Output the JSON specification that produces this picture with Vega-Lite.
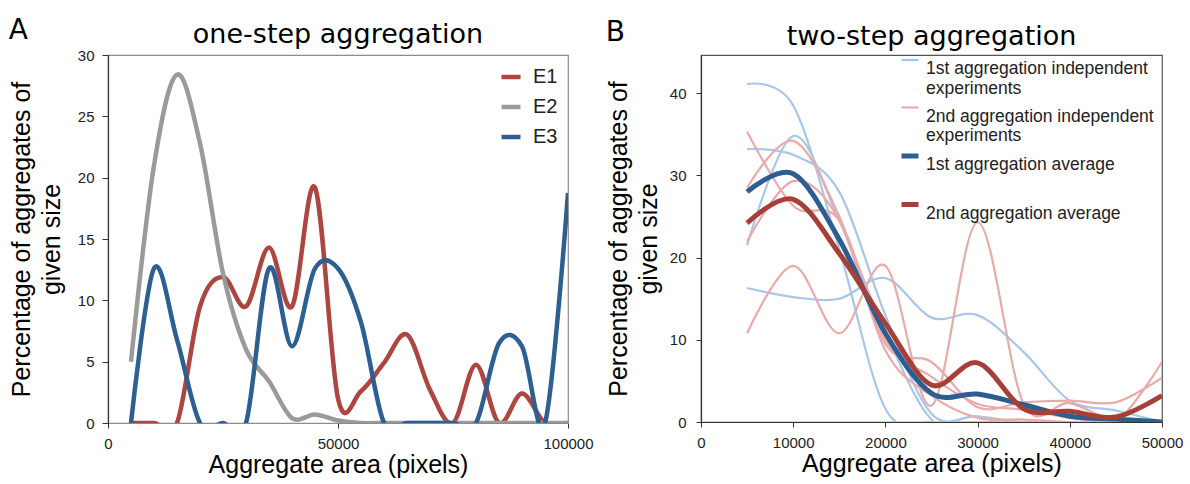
{
  "$schema": "https://vega.github.io/schema/vega-lite/v6.json",
  "padding": {"left": 8, "top": 17, "right": 5, "bottom": 2},
  "spacing": 11,
  "config": {
    "font": "Liberation Sans",
    "view": {"stroke": "#8c8c8c", "strokeWidth": 1.2},
    "title": {"font": "DejaVu Sans", "fontSize": 27, "fontWeight": "normal", "color": "#000000", "baseline": "alphabetic"},
    "axis": {
      "grid": false,
      "labelFont": "Liberation Sans", "labelFontSize": 15, "labelColor": "#222222",
      "titleFont": "Liberation Sans", "titleFontSize": 25, "titleFontWeight": "normal", "titleColor": "#000000",
      "tickColor": "#333333", "tickSize": 5, "domainColor": "#333333", "domainWidth": 1.2
    },
    "legend": {"labelFont": "Liberation Sans", "labelColor": "#222222", "symbolType": "stroke", "padding": 0}
  },
  "datasets": {
    "one": [
      {"exp": "E1", "area": 5000, "pct": 0}, {"exp": "E1", "area": 10000, "pct": 0}, {"exp": "E1", "area": 15000, "pct": 0},
      {"exp": "E1", "area": 20000, "pct": 9.5}, {"exp": "E1", "area": 25000, "pct": 11.9}, {"exp": "E1", "area": 30000, "pct": 9.5},
      {"exp": "E1", "area": 35000, "pct": 14.3}, {"exp": "E1", "area": 40000, "pct": 9.5}, {"exp": "E1", "area": 45000, "pct": 19.2},
      {"exp": "E1", "area": 50000, "pct": 2.0}, {"exp": "E1", "area": 55000, "pct": 2.6}, {"exp": "E1", "area": 60000, "pct": 4.9},
      {"exp": "E1", "area": 65000, "pct": 7.2}, {"exp": "E1", "area": 70000, "pct": 2.7}, {"exp": "E1", "area": 75000, "pct": 0},
      {"exp": "E1", "area": 80000, "pct": 4.75}, {"exp": "E1", "area": 85000, "pct": 0}, {"exp": "E1", "area": 90000, "pct": 2.4},
      {"exp": "E1", "area": 95000, "pct": 0}, {"exp": "E1", "area": 100000, "pct": 0},
      {"exp": "E2", "area": 5000, "pct": 5.0}, {"exp": "E2", "area": 10000, "pct": 21.0}, {"exp": "E2", "area": 15000, "pct": 28.4},
      {"exp": "E2", "area": 20000, "pct": 22.8}, {"exp": "E2", "area": 25000, "pct": 12.2}, {"exp": "E2", "area": 30000, "pct": 6.0},
      {"exp": "E2", "area": 35000, "pct": 3.4}, {"exp": "E2", "area": 40000, "pct": 0.4}, {"exp": "E2", "area": 45000, "pct": 0.7},
      {"exp": "E2", "area": 50000, "pct": 0.2}, {"exp": "E2", "area": 55000, "pct": 0}, {"exp": "E2", "area": 60000, "pct": 0},
      {"exp": "E2", "area": 65000, "pct": 0}, {"exp": "E2", "area": 70000, "pct": 0}, {"exp": "E2", "area": 75000, "pct": 0},
      {"exp": "E2", "area": 80000, "pct": 0}, {"exp": "E2", "area": 85000, "pct": 0}, {"exp": "E2", "area": 90000, "pct": 0},
      {"exp": "E2", "area": 95000, "pct": 0}, {"exp": "E2", "area": 100000, "pct": 0},
      {"exp": "E3", "area": 5000, "pct": 0}, {"exp": "E3", "area": 10000, "pct": 12.6}, {"exp": "E3", "area": 15000, "pct": 6.8},
      {"exp": "E3", "area": 20000, "pct": 0}, {"exp": "E3", "area": 25000, "pct": 0}, {"exp": "E3", "area": 30000, "pct": 0},
      {"exp": "E3", "area": 35000, "pct": 12.6}, {"exp": "E3", "area": 40000, "pct": 6.25}, {"exp": "E3", "area": 45000, "pct": 12.6},
      {"exp": "E3", "area": 50000, "pct": 12.6}, {"exp": "E3", "area": 55000, "pct": 8.2}, {"exp": "E3", "area": 60000, "pct": 0},
      {"exp": "E3", "area": 65000, "pct": 0}, {"exp": "E3", "area": 70000, "pct": 0}, {"exp": "E3", "area": 75000, "pct": 0},
      {"exp": "E3", "area": 80000, "pct": 0}, {"exp": "E3", "area": 85000, "pct": 6.5}, {"exp": "E3", "area": 90000, "pct": 6.25},
      {"exp": "E3", "area": 95000, "pct": 0}, {"exp": "E3", "area": 100000, "pct": 18.75}
    ],
    "two": [
      {"run": "B1", "series": "1st aggregation independent experiments", "area": 5000, "pct": 41.1},
      {"run": "B1", "series": "1st aggregation independent experiments", "area": 10000, "pct": 38.5},
      {"run": "B1", "series": "1st aggregation independent experiments", "area": 15000, "pct": 21.0},
      {"run": "B1", "series": "1st aggregation independent experiments", "area": 20000, "pct": 1.6},
      {"run": "B1", "series": "1st aggregation independent experiments", "area": 25000, "pct": 0},
      {"run": "B1", "series": "1st aggregation independent experiments", "area": 30000, "pct": 0},
      {"run": "B1", "series": "1st aggregation independent experiments", "area": 35000, "pct": 0},
      {"run": "B1", "series": "1st aggregation independent experiments", "area": 40000, "pct": 0},
      {"run": "B1", "series": "1st aggregation independent experiments", "area": 45000, "pct": 0},
      {"run": "B1", "series": "1st aggregation independent experiments", "area": 50000, "pct": 0},
      {"run": "B2", "series": "1st aggregation independent experiments", "area": 5000, "pct": 33.2},
      {"run": "B2", "series": "1st aggregation independent experiments", "area": 10000, "pct": 32.5},
      {"run": "B2", "series": "1st aggregation independent experiments", "area": 15000, "pct": 28.0},
      {"run": "B2", "series": "1st aggregation independent experiments", "area": 20000, "pct": 13.0},
      {"run": "B2", "series": "1st aggregation independent experiments", "area": 25000, "pct": 1.0},
      {"run": "B2", "series": "1st aggregation independent experiments", "area": 30000, "pct": 0.7},
      {"run": "B2", "series": "1st aggregation independent experiments", "area": 35000, "pct": 0},
      {"run": "B2", "series": "1st aggregation independent experiments", "area": 40000, "pct": 0},
      {"run": "B2", "series": "1st aggregation independent experiments", "area": 45000, "pct": 0},
      {"run": "B2", "series": "1st aggregation independent experiments", "area": 50000, "pct": 0},
      {"run": "B3", "series": "1st aggregation independent experiments", "area": 5000, "pct": 21.5},
      {"run": "B3", "series": "1st aggregation independent experiments", "area": 10000, "pct": 34.8},
      {"run": "B3", "series": "1st aggregation independent experiments", "area": 15000, "pct": 24.5},
      {"run": "B3", "series": "1st aggregation independent experiments", "area": 20000, "pct": 11.0},
      {"run": "B3", "series": "1st aggregation independent experiments", "area": 25000, "pct": 0.3},
      {"run": "B3", "series": "1st aggregation independent experiments", "area": 30000, "pct": 0},
      {"run": "B3", "series": "1st aggregation independent experiments", "area": 35000, "pct": 0},
      {"run": "B3", "series": "1st aggregation independent experiments", "area": 40000, "pct": 0},
      {"run": "B3", "series": "1st aggregation independent experiments", "area": 45000, "pct": 0},
      {"run": "B3", "series": "1st aggregation independent experiments", "area": 50000, "pct": 0},
      {"run": "B4", "series": "1st aggregation independent experiments", "area": 5000, "pct": 16.3},
      {"run": "B4", "series": "1st aggregation independent experiments", "area": 10000, "pct": 15.2},
      {"run": "B4", "series": "1st aggregation independent experiments", "area": 15000, "pct": 15.0},
      {"run": "B4", "series": "1st aggregation independent experiments", "area": 20000, "pct": 17.5},
      {"run": "B4", "series": "1st aggregation independent experiments", "area": 25000, "pct": 12.7},
      {"run": "B4", "series": "1st aggregation independent experiments", "area": 30000, "pct": 13.0},
      {"run": "B4", "series": "1st aggregation independent experiments", "area": 35000, "pct": 8.5},
      {"run": "B4", "series": "1st aggregation independent experiments", "area": 40000, "pct": 2.6},
      {"run": "B4", "series": "1st aggregation independent experiments", "area": 45000, "pct": 1.4},
      {"run": "B4", "series": "1st aggregation independent experiments", "area": 50000, "pct": 0},
      {"run": "P1", "series": "2nd aggregation independent experiments", "area": 5000, "pct": 35.3},
      {"run": "P1", "series": "2nd aggregation independent experiments", "area": 10000, "pct": 26.3},
      {"run": "P1", "series": "2nd aggregation independent experiments", "area": 15000, "pct": 24.5},
      {"run": "P1", "series": "2nd aggregation independent experiments", "area": 20000, "pct": 10.0},
      {"run": "P1", "series": "2nd aggregation independent experiments", "area": 25000, "pct": 5.5},
      {"run": "P1", "series": "2nd aggregation independent experiments", "area": 30000, "pct": 2.2},
      {"run": "P1", "series": "2nd aggregation independent experiments", "area": 35000, "pct": 1.5},
      {"run": "P1", "series": "2nd aggregation independent experiments", "area": 40000, "pct": 0.5},
      {"run": "P1", "series": "2nd aggregation independent experiments", "area": 45000, "pct": 0},
      {"run": "P1", "series": "2nd aggregation independent experiments", "area": 50000, "pct": 0},
      {"run": "P2", "series": "2nd aggregation independent experiments", "area": 5000, "pct": 28.5},
      {"run": "P2", "series": "2nd aggregation independent experiments", "area": 10000, "pct": 34.2},
      {"run": "P2", "series": "2nd aggregation independent experiments", "area": 15000, "pct": 25.0},
      {"run": "P2", "series": "2nd aggregation independent experiments", "area": 20000, "pct": 9.5},
      {"run": "P2", "series": "2nd aggregation independent experiments", "area": 25000, "pct": 7.3},
      {"run": "P2", "series": "2nd aggregation independent experiments", "area": 30000, "pct": 1.8},
      {"run": "P2", "series": "2nd aggregation independent experiments", "area": 35000, "pct": 2.4},
      {"run": "P2", "series": "2nd aggregation independent experiments", "area": 40000, "pct": 2.6},
      {"run": "P2", "series": "2nd aggregation independent experiments", "area": 45000, "pct": 2.4},
      {"run": "P2", "series": "2nd aggregation independent experiments", "area": 50000, "pct": 5.4},
      {"run": "P3", "series": "2nd aggregation independent experiments", "area": 5000, "pct": 22.0},
      {"run": "P3", "series": "2nd aggregation independent experiments", "area": 10000, "pct": 29.3},
      {"run": "P3", "series": "2nd aggregation independent experiments", "area": 15000, "pct": 24.5},
      {"run": "P3", "series": "2nd aggregation independent experiments", "area": 20000, "pct": 8.7},
      {"run": "P3", "series": "2nd aggregation independent experiments", "area": 25000, "pct": 3.2},
      {"run": "P3", "series": "2nd aggregation independent experiments", "area": 30000, "pct": 0.5},
      {"run": "P3", "series": "2nd aggregation independent experiments", "area": 35000, "pct": 0.3},
      {"run": "P3", "series": "2nd aggregation independent experiments", "area": 40000, "pct": 0},
      {"run": "P3", "series": "2nd aggregation independent experiments", "area": 45000, "pct": 0},
      {"run": "P3", "series": "2nd aggregation independent experiments", "area": 50000, "pct": 7.3},
      {"run": "P4", "series": "2nd aggregation independent experiments", "area": 5000, "pct": 10.8},
      {"run": "P4", "series": "2nd aggregation independent experiments", "area": 10000, "pct": 19.0},
      {"run": "P4", "series": "2nd aggregation independent experiments", "area": 15000, "pct": 10.8},
      {"run": "P4", "series": "2nd aggregation independent experiments", "area": 20000, "pct": 19.0},
      {"run": "P4", "series": "2nd aggregation independent experiments", "area": 25000, "pct": 2.0},
      {"run": "P4", "series": "2nd aggregation independent experiments", "area": 30000, "pct": 24.3},
      {"run": "P4", "series": "2nd aggregation independent experiments", "area": 35000, "pct": 2.2},
      {"run": "P4", "series": "2nd aggregation independent experiments", "area": 40000, "pct": 2.3},
      {"run": "P4", "series": "2nd aggregation independent experiments", "area": 45000, "pct": 0},
      {"run": "P4", "series": "2nd aggregation independent experiments", "area": 50000, "pct": 0},
      {"run": "A1", "series": "1st aggregation average", "area": 5000, "pct": 28.0},
      {"run": "A1", "series": "1st aggregation average", "area": 10000, "pct": 30.2},
      {"run": "A1", "series": "1st aggregation average", "area": 15000, "pct": 22.2},
      {"run": "A1", "series": "1st aggregation average", "area": 20000, "pct": 10.8},
      {"run": "A1", "series": "1st aggregation average", "area": 25000, "pct": 3.5},
      {"run": "A1", "series": "1st aggregation average", "area": 30000, "pct": 3.4},
      {"run": "A1", "series": "1st aggregation average", "area": 35000, "pct": 2.1},
      {"run": "A1", "series": "1st aggregation average", "area": 40000, "pct": 0.7},
      {"run": "A1", "series": "1st aggregation average", "area": 45000, "pct": 0.35},
      {"run": "A1", "series": "1st aggregation average", "area": 50000, "pct": 0},
      {"run": "A2", "series": "2nd aggregation average", "area": 5000, "pct": 24.2},
      {"run": "A2", "series": "2nd aggregation average", "area": 10000, "pct": 27.1},
      {"run": "A2", "series": "2nd aggregation average", "area": 15000, "pct": 20.5},
      {"run": "A2", "series": "2nd aggregation average", "area": 20000, "pct": 12.0},
      {"run": "A2", "series": "2nd aggregation average", "area": 25000, "pct": 4.5},
      {"run": "A2", "series": "2nd aggregation average", "area": 30000, "pct": 7.2},
      {"run": "A2", "series": "2nd aggregation average", "area": 35000, "pct": 1.6},
      {"run": "A2", "series": "2nd aggregation average", "area": 40000, "pct": 1.3},
      {"run": "A2", "series": "2nd aggregation average", "area": 45000, "pct": 0.6},
      {"run": "A2", "series": "2nd aggregation average", "area": 50000, "pct": 3.2}
    ]
  },
  "resolve": {"scale": {"color": "independent", "strokeWidth": "independent"}, "legend": {"color": "independent", "strokeWidth": "independent"}},
  "hconcat": [
    {
      "title": {"text": "A", "anchor": "start", "frame": "bounds", "offset": -25, "fontSize": 28},
      "resolve": {"scale": {"color": "independent"}, "legend": {"color": "independent"}},
      "hconcat": [
        {
          "width": 460,
          "height": 368,
          "title": {"text": "one-step aggregation", "offset": -1},
          "data": {"name": "one"},
          "mark": {"type": "line", "interpolate": "cardinal", "strokeWidth": 4.5, "clip": true},
          "encoding": {
            "x": {
              "field": "area", "type": "quantitative",
              "scale": {"domain": [0, 100000], "nice": false},
              "axis": {"values": [0, 50000, 100000], "format": "d", "title": "Aggregate area (pixels)", "labelFlush": false, "labelPadding": 8, "titlePadding": 1, "domainColor": "#8c8c8c"}
            },
            "y": {
              "field": "pct", "type": "quantitative",
              "scale": {"domain": [0, 30], "nice": false},
              "axis": {"values": [0, 5, 10, 15, 20, 25, 30], "title": ["Percentage of aggregates of", "given size"], "titleLineHeight": 30, "tickSize": 6, "labelPadding": 8, "titlePadding": 13}
            },
            "color": {
              "field": "exp", "type": "nominal",
              "scale": {"domain": ["E1", "E2", "E3"], "range": ["#AD4540", "#9A9A9A", "#2D5F93"]},
              "legend": {"title": null, "orient": "top-right", "offset": 10, "labelFontSize": 20, "symbolSize": 361, "symbolStrokeWidth": 4.5, "rowPadding": 8, "labelOffset": 10}
            }
          }
        }
      ]
    },
    {
      "title": {"text": "B", "anchor": "start", "frame": "bounds", "offset": -25, "fontSize": 28},
      "resolve": {"scale": {"color": "independent", "strokeWidth": "independent"}, "legend": {"color": "independent", "strokeWidth": "independent"}},
      "hconcat": [
        {
          "width": 461,
          "height": 367,
          "view": {"stroke": "#555555"},
          "title": {"text": "two-step aggregation", "offset": -1},
          "data": {"name": "two"},
          "mark": {"type": "line", "interpolate": "cardinal", "clip": true},
          "encoding": {
            "x": {
              "field": "area", "type": "quantitative",
              "scale": {"domain": [0, 50000], "nice": false},
              "axis": {"values": [0, 10000, 20000, 30000, 40000, 50000], "format": "d", "title": "Aggregate area (pixels)", "labelFlush": false, "labelPadding": 8, "titlePadding": 1}
            },
            "y": {
              "field": "pct", "type": "quantitative",
              "scale": {"domain": [0, 44.65], "nice": false},
              "axis": {"values": [0, 10, 20, 30, 40], "title": ["Percentage of aggregates of", "given size"], "titleLineHeight": 30, "labelPadding": 10, "titlePadding": 8}
            },
            "detail": {"field": "run"},
            "color": {
              "field": "series", "type": "ordinal",
              "scale": {"type": "ordinal", "domain": ["1st aggregation independent experiments", "2nd aggregation independent experiments", "1st aggregation average", "2nd aggregation average"], "range": ["#A7C7EA", "#E8ABA9", "#2C5E92", "#A63F38"]},
              "legend": {"title": null, "orient": "none", "legendX": 198, "legendY": -5, "labelFontSize": 17.5, "symbolSize": 289, "rowPadding": 0.5, "labelOffset": 5, "labelBaseline": "top", "labelLimit": 300,
                "labelExpr": "indexof(datum.label, 'independent') > 0 ? [slice(datum.label, 0, 27), slice(datum.label, 28)] : [datum.label, '']"}
            },
            "strokeWidth": {
              "field": "series", "type": "ordinal",
              "scale": {"type": "ordinal", "domain": ["1st aggregation independent experiments", "2nd aggregation independent experiments", "1st aggregation average", "2nd aggregation average"], "range": [2.2, 2.2, 5, 5]},
              "legend": {"title": null, "orient": "none", "legendX": 198, "legendY": -5, "labelFontSize": 17.5, "symbolSize": 289, "rowPadding": 0.5, "labelOffset": 5, "labelBaseline": "top", "labelLimit": 300,
                "labelExpr": "indexof(datum.label, 'independent') > 0 ? [slice(datum.label, 0, 27), slice(datum.label, 28)] : [datum.label, '']"}
            }
          }
        }
      ]
    }
  ]
}
